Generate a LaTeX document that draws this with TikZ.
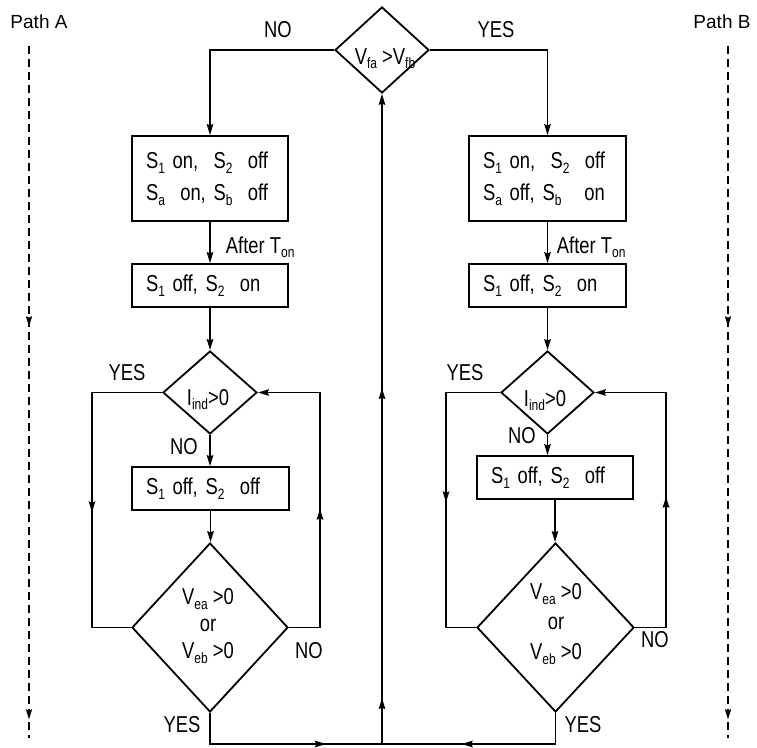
\documentclass[tikz,border=0pt]{standalone}
\usepackage{fontspec}
\usetikzlibrary{shapes.geometric,arrows.meta,decorations.markings}
\newfontfamily\nar[FakeStretch=0.8]{Liberation Sans}
\newfontfamily\reg{Liberation Sans}
\newcommand\mysub[1]{\raisebox{-4.5pt}{\fontsize{15}{15}\selectfont #1}}
\tikzset{
  x=1pt, y=-1pt,
  every path/.style={line width=1.8pt},
  tip/.tip={Stealth[length=11pt,width=6.5pt,inset=1.5pt]},
  arr/.style={-tip},
  tipat/.style={postaction={decorate,decoration={markings,mark=at position #1 with {\arrow{tip}}}}},
  lbl/.style={inner sep=0pt, font=\nar\fontsize{23}{27}\selectfont},
  plbl/.style={inner sep=0pt, font=\reg\fontsize{19}{22}\selectfont},
  stepbox/.style={draw, rectangle, line width=1.8pt, inner xsep=14pt, inner ysep=0pt,
     text width=#1-28pt, align=left, font=\nar\fontsize{23}{27}\selectfont},
  dia/.style={draw, diamond, line width=1.8pt, inner sep=0pt},
  dashline/.style={dash pattern=on 8pt off 5pt}
}
\begin{document}
\begin{tikzpicture}
\useasboundingbox (0,0) rectangle (757,747);
% decision at top
\node[dia, minimum width=94pt, minimum height=86pt] (D0) at (382,50) {};
\node[lbl, anchor=base] (tD0) at (385,64) {V\mysub{fa} >V\mysub{fb}};
% left column
\node[stepbox=156pt, minimum height=85pt] (L1) at (210,178.5) {S\mysub{1} on,\ \ S\mysub{2}\ \ off\\[5pt]S\mysub{a}\ \ on, S\mysub{b}\ \ off};
\node[stepbox=156pt, minimum height=43pt] (L2) at (210,285.5) {S\mysub{1} off, S\mysub{2}\ \ on};
\node[dia, minimum width=94pt, minimum height=83pt] (LI) at (210,392.5) {};
\node[lbl, anchor=base] (tLI) at (208,405) {I\mysub{ind}>0};
\node[stepbox=157pt, minimum height=43pt] (L3) at (210.5,488.5) {S\mysub{1} off, S\mysub{2}\ \ off};
\node[dia, minimum width=156pt, minimum height=169pt] (LB) at (210,627.5) {};
\node[lbl, align=center] (tLB) at (208,626) {V\mysub{ea} >0\\or\\V\mysub{eb} >0};
% right column
\node[stepbox=157pt, minimum height=85pt] (R1) at (547.5,178.5) {S\mysub{1} on,\ \ S\mysub{2}\ \ off\\[5pt]S\mysub{a} off, S\mysub{b}\ \ \ on};
\node[stepbox=157pt, minimum height=43pt] (R2) at (547.5,285.5) {S\mysub{1} off, S\mysub{2}\ \ on};
\node[dia, minimum width=93pt, minimum height=83pt] (RI) at (547.5,392.5) {};
\node[lbl, anchor=base] (tRI) at (545,406) {I\mysub{ind}>0};
\node[stepbox=156pt, minimum height=43pt] (R3) at (555,477.5) {S\mysub{1} off, S\mysub{2}\ \ off};
\node[dia, minimum width=157pt, minimum height=169pt] (RB) at (555.5,627.5) {};
\node[lbl, align=center] (tRB) at (556,624) {V\mysub{ea} >0\\[3pt]or\\[3pt]V\mysub{eb} >0};
% labels
\node[lbl] (noT) at (278,30) {NO};
\node[lbl] (yesT) at (496,30) {YES};
\node[lbl, anchor=west] (aftL) at (225,247) {After T\mysub{on}};
\node[lbl, anchor=west] (aftR) at (556,247) {After T\mysub{on}};
\node[lbl] (yesLI) at (127,373) {YES};
\node[lbl] (noLI) at (184,447) {NO};
\node[lbl] (noLB) at (309,651) {NO};
\node[lbl] (yesLB) at (182,725) {YES};
\node[lbl] (yesRI) at (465,373) {YES};
\node[lbl] (noRI) at (522,436) {NO};
\node[lbl] (noRB) at (655,640) {NO};
\node[lbl] (yesRB) at (583,725) {YES};
\node[plbl] (pA) at (39,22) {Path A};
\node[plbl] (pB) at (722,22) {Path B};
% coordinates
\coordinate (LL1) at (92,392.5);
\coordinate (LL2) at (92,627.5);
\coordinate (LR1) at (320,627.5);
\coordinate (LR2) at (320,392.5);
\coordinate (RL1) at (446,392.5);
\coordinate (RL2) at (446,627.5);
\coordinate (RR1) at (666,627.5);
\coordinate (RR2) at (666,392.5);
\coordinate (LBB) at (210,744);
\coordinate (RBB) at (555.5,744);
\coordinate (C) at (382,744);
\coordinate (PA1) at (29,46);
\coordinate (PA2) at (29,738);
\coordinate (PB1) at (728,46);
\coordinate (PB2) at (728,738);
% connectors
\draw[arr] (D0.west) -| (L1.north);
\draw[arr] (D0.east) -| (R1.north);
\draw[arr] (L1.south) -- (L2.north);
\draw[arr] (L2.south) -- (LI.north);
\draw[arr] (LI.south) -- (LI.south |- L3.north);
\draw[arr] (L3.south) -- (L3.south |- LB.north);
\draw[arr] (R1.south) -- (R2.north);
\draw[arr] (R2.south) -- (RI.north);
\draw[arr] (RI.south) -- (RI.south |- R3.north);
\draw[arr] (R3.south) -- (R3.south |- RB.north);
\draw[tipat=190pt] (LI.west) -- (LL1) -- (LL2) -- (LB.west);
\draw[arr, tipat=150pt] (LB.east) -- (LR1) -- (LR2) -- (LI.east);
\draw[tipat=164pt] (RI.west) -- (RL1) -- (RL2) -- (RB.west);
\draw[arr, tipat=162pt] (RB.east) -- (RR1) -- (RR2) -- (RI.east);
\draw[tipat=147pt] (LB.south) -- (LBB) -- (C);
\draw[tipat=125pt] (RB.south) -- (RBB) -- (C);
\draw[arr, tipat=46pt, tipat=356pt] (C) -- (D0.south);
\draw[dashline, line width=1.5pt, tipat=281pt, tipat=674pt] (PA1) -- (PA2);
\draw[dashline, line width=1.5pt, tipat=281pt, tipat=674pt] (PB1) -- (PB2);
\end{tikzpicture}
\end{document}
